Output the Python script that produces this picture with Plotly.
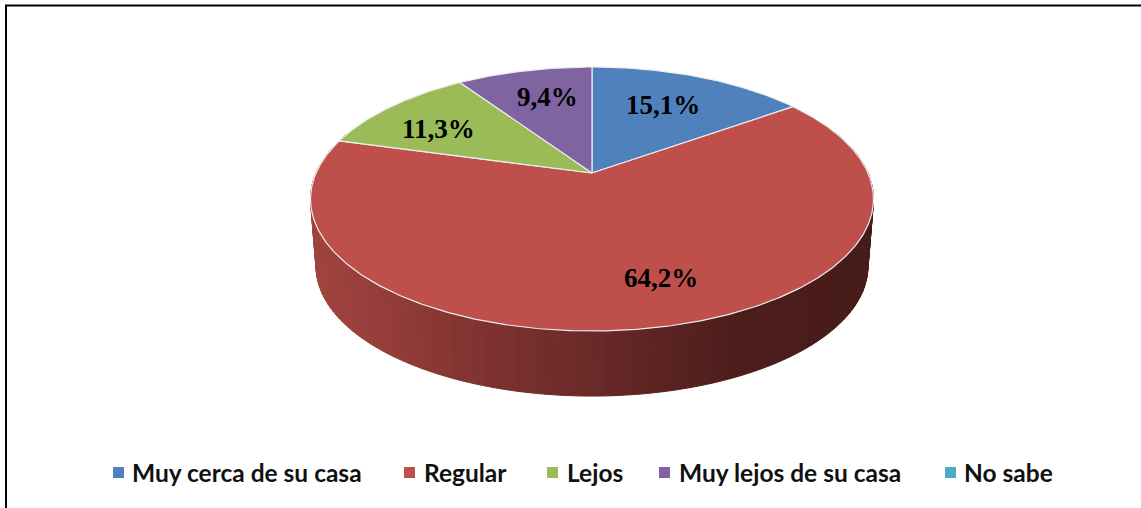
import numpy as np
import plotly.graph_objects as go

# ---- chart data ----
categories = ["Muy cerca de su casa", "Regular", "Lejos", "Muy lejos de su casa", "No sabe"]
values = [15.1, 64.2, 11.3, 9.4, 0.0]
value_labels = ["15,1%", "64,2%", "11,3%", "9,4%", ""]

# ---- style / layout (pixel space of the 1141x508 page) ----
W, H = 1141, 508
colors = ["#4F81BD", "#BE4F4B", "#9BBB59", "#8064A2", "#4BACC6"]
label_pos = [(663, 105), (661, 278), (438, 129), (547, 97)]
legend_marker_x = [118.5, 409.5, 552.5, 664.5, 950.5]
legend_text_x = [132, 424, 567, 679, 964]
legend_y = 472.5

# perspective disc projection
CX, CY, A, B, K = 592.0, 173.0, 276.0, 126.9, 0.197
DEPTH_CY, DEPTH_SCALE = 241.2, 0.98


def project(theta_deg, cy=CY, scale=1.0):
    t = np.radians(theta_deg)
    X, Y = np.sin(t), np.cos(t)
    w = 1 + K * Y
    return CX + scale * A * X / w, cy - scale * B * Y / w


fig = go.Figure()

# side wall with its horizontal gradient
grad_x = [312, 380, 450, 520, 592, 660, 730, 800, 873]
grad_r = [162, 150, 134, 120, 106, 92, 78, 74, 72]
grad_g = [68, 62, 54, 48, 42, 36, 30, 29, 28]
grad_b = [64, 58, 51, 46, 40, 34, 28, 27, 26]
edges = np.arange(70, 290.01, 1.5)
for a0, a1 in zip(edges[:-1], edges[1:]):
    th = np.array([a0, a1])
    xt, yt = project(th)
    xb, yb = project(th, DEPTH_CY, DEPTH_SCALE)
    xm = (xt.mean() + xb.mean()) / 2
    c = "rgb(%d,%d,%d)" % (np.interp(xm, grad_x, grad_r), np.interp(xm, grad_x, grad_g), np.interp(xm, grad_x, grad_b))
    fig.add_trace(go.Scatter(
        x=[xt[0], xt[1], xb[1], xb[0], xt[0]], y=[yt[0], yt[1], yb[1], yb[0], yt[0]],
        mode="lines", fill="toself", fillcolor=c, line=dict(color=c, width=1),
        hoverinfo="skip", showlegend=False))

# top face slices, computed from the values
total = sum(values)
start = 0.0
for name, v, col in zip(categories, values, colors):
    sweep = 360.0 * v / total
    if v > 0:
        th = np.linspace(start, start + sweep, max(int(sweep * 2), 8))
        xs, ys = project(th)
        fig.add_trace(go.Scatter(
            x=[CX, *xs, CX], y=[CY, *ys, CY], mode="lines", fill="toself", fillcolor=col,
            line=dict(color="#EDEDF0", width=1.2), name=name, text=f"{v}", hoverinfo="name+text",
            showlegend=False))
    start += sweep

# legend swatches
for name, col, mx in zip(categories, colors, legend_marker_x):
    fig.add_trace(go.Scatter(
        x=[mx], y=[legend_y], mode="markers", name=name,
        marker=dict(symbol="square", size=11, color=col), showlegend=False, hoverinfo="name"))

annotations = []
for txt, (lx, ly) in zip(value_labels, label_pos):
    annotations.append(dict(x=lx, y=ly, text=txt, showarrow=False, xanchor="center", yanchor="middle",
                            font=dict(family="Liberation Serif", size=27, color="#000000", weight=700)))
for name, tx in zip(categories, legend_text_x):
    annotations.append(dict(x=tx, y=legend_y, text=name, showarrow=False, xanchor="left", yanchor="middle",
                            xshift=-2, font=dict(family="Lato", size=24.5, color="#111111", weight=700)))

shapes = [
    dict(type="line", x0=5, x1=W, y0=5.5, y1=5.5, line=dict(color="#000000", width=2)),
    dict(type="line", x0=6, x1=6, y0=5, y1=H, line=dict(color="#000000", width=2)),
]

fig.update_layout(
    width=W, height=H, margin=dict(l=0, r=0, t=0, b=0), autosize=False,
    paper_bgcolor="#FFFFFF", plot_bgcolor="#FFFFFF", showlegend=False,
    xaxis=dict(range=[0, W], visible=False, fixedrange=True),
    yaxis=dict(range=[H, 0], visible=False, fixedrange=True),
    annotations=annotations, shapes=shapes,
)
fig.write_html("out.html", config={"displayModeBar": False},
               post_script="document.documentElement.style.overflow='hidden';document.body.style.margin='0';")
